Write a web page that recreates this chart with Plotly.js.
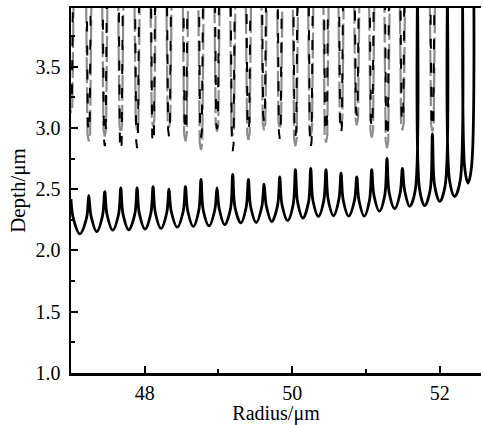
<!DOCTYPE html>
<html>
<head>
<meta charset="utf-8">
<script src="https://cdn.plot.ly/plotly-3.0.1.min.js"></script>
<style>
  html, body { margin: 0; padding: 0; background: #fff; }
  #chart { width: 483px; height: 425px; }
</style>
</head>
<body>
<div id="chart"></div>
<script>
// ---- Data (µm) ----
// Lower (black, solid) profile: cusp positions/heights and the arc minima between them
const cuspX = [47.241, 47.458, 47.675, 47.896, 48.113, 48.329, 48.552, 48.763, 48.980, 49.193,
               49.406, 49.618, 49.831, 50.043, 50.251, 50.458, 50.662, 50.875, 51.078, 51.285,
               51.494, 51.698, 51.901, 52.104, 52.308];
const cuspY = [2.45, 2.48, 2.51, 2.51, 2.52, 2.50, 2.52, 2.58, 2.51, 2.62,
               2.58, 2.54, 2.60, 2.66, 2.67, 2.66, 2.63, 2.60, 2.66, 2.75,
               2.67, 4.30, 2.95, 4.30, 4.30];
const arcMinX = [47.119, 47.349, 47.566, 47.783, 48.004, 48.221, 48.441, 48.658, 48.872, 49.085,
                 49.302, 49.512, 49.722, 49.939, 50.146, 50.355, 50.560, 50.766, 50.976, 51.182,
                 51.390, 51.593, 51.797, 52.000, 52.203, 52.384];
const arcMinY = [2.136, 2.154, 2.165, 2.168, 2.174, 2.180, 2.190, 2.196, 2.200, 2.210,
                 2.225, 2.228, 2.236, 2.244, 2.264, 2.277, 2.283, 2.280, 2.280, 2.320,
                 2.340, 2.360, 2.365, 2.400, 2.440, 2.550];
const lowerStart = [47.0, 2.42];
const lowerEnd = [52.461, 4.30];

// Upper profiles (grey and black dashed): narrow valleys hanging from above the frame
const valleyX = [47.0, 47.241, 47.458, 47.675, 47.896, 48.113, 48.329, 48.552, 48.763, 48.980,
                 49.193, 49.406, 49.618, 49.831, 50.043, 50.251, 50.458, 50.662, 50.875, 51.078,
                 51.285, 51.494, 51.901];
const greyBottom = [3.12, 2.89, 2.93, 2.96, 2.98, 3.01, 3.00, 2.89, 2.82, 2.97,
                    2.94, 2.90, 2.98, 2.99, 2.85, 2.93, 2.88, 3.02, 3.02, 2.92,
                    2.835, 2.98, 2.97];
const darkBottom = [3.20, 2.97, 2.85, 2.81, 2.835, 2.87, 2.93, 2.97, 2.92, 2.99,
                    2.81, 2.98, 3.05, 2.91, 2.93, 2.835, 2.96, 2.95, 3.10, 3.00,
                    2.92, 3.05, 3.00];
const valleyTop = 4.30;

const xTickVals = [48, 50, 52];
const yTickVals = [1.0, 1.5, 2.0, 2.5, 3.0, 3.5];

// ---- Build the traces from the readings ----
function lowerProfile() {
  const d = 0.03, h = 0.13;
  const xs = [lowerStart[0]], ys = [lowerStart[1]];
  let leftX = lowerStart[0];
  for (let i = 0; i < arcMinX.length; i++) {
    const right = i < cuspX.length ? [cuspX[i], cuspY[i]] : lowerEnd;
    xs.push(leftX + d, arcMinX[i], right[0] - d, right[0]);
    ys.push(arcMinY[i] + h, arcMinY[i], arcMinY[i] + h, right[1]);
    leftX = right[0];
  }
  return {x: xs, y: ys};
}
function upperProfile(bottoms, wTop, wLow) {
  const xs = [], ys = [];
  for (let i = 0; i < valleyX.length; i++) {
    const c = valleyX[i], b = bottoms[i];
    xs.push(c - wTop, c - wLow, c, c + wLow, c + wTop);
    ys.push(valleyTop, b + 0.06, b, b + 0.06, valleyTop);
  }
  return {x: xs, y: ys};
}

const lo = lowerProfile();
const gr = upperProfile(greyBottom, 0.040, 0.018);
const dk = upperProfile(darkBottom, 0.030, 0.012);

const traces = [
  {x: gr.x, y: gr.y, mode: 'lines', line: {color: '#8c8c8c', width: 2.2, dash: '26px,4px'}, hoverinfo: 'skip'},
  {x: dk.x, y: dk.y, mode: 'lines', line: {color: '#000', width: 2, dash: '10px,14px'}, hoverinfo: 'skip'},
  {x: lo.x, y: lo.y, mode: 'lines', line: {color: '#000', width: 2.8, shape: 'spline', smoothing: 1}, hoverinfo: 'skip'}
];

const fontFam = 'Liberation Serif, Times New Roman, serif';
const yRange = [1, 3.978];
const layout = {
  width: 483, height: 425,
  margin: {l: 71, r: 2, t: 8, b: 52},
  paper_bgcolor: '#fff', plot_bgcolor: '#fff',
  showlegend: false,
  font: {family: fontFam, size: 20, color: '#000'},
  xaxis: {
    range: [47, 52.56], tickvals: xTickVals, ticktext: xTickVals.map(String),
    ticks: 'inside', ticklen: 7, tickwidth: 2, tickcolor: '#000',
    minor: {dtick: 1, tick0: 47, ticks: 'inside', ticklen: 4, tickwidth: 2, tickcolor: '#000'},
    showline: true, linewidth: 2.5, linecolor: '#000', mirror: true,
    showgrid: false, zeroline: false,
    tickfont: {family: fontFam, size: 20, color: '#000'},
    ticklabelstandoff: 0,
    title: {text: 'Radius/μm', font: {family: fontFam, size: 20, color: '#000'}, standoff: 9}
  },
  yaxis: {
    range: yRange, tickvals: yTickVals, ticktext: yTickVals.map(v => v.toFixed(1)),
    ticks: 'inside', ticklen: 7, tickwidth: 2, tickcolor: '#000',
    minor: {dtick: 0.25, tick0: 1, ticks: 'inside', ticklen: 4, tickwidth: 2, tickcolor: '#000'},
    showline: true, linewidth: 2.5, linecolor: '#000', mirror: false,
    showgrid: false, zeroline: false,
    tickfont: {family: fontFam, size: 20, color: '#000'},
    ticklabelstandoff: 4,
    title: {text: 'Depth/μm', font: {family: fontFam, size: 21, color: '#000'}, standoff: 4}
  },
  yaxis2: {
    overlaying: 'y', side: 'right', range: yRange,
    showline: true, linewidth: 1.3, linecolor: '#000',
    showticklabels: false, ticks: '', showgrid: false, zeroline: false
  }
};

Plotly.newPlot('chart', traces, layout, {staticPlot: true, displayModeBar: false});
</script>
</body>
</html>
